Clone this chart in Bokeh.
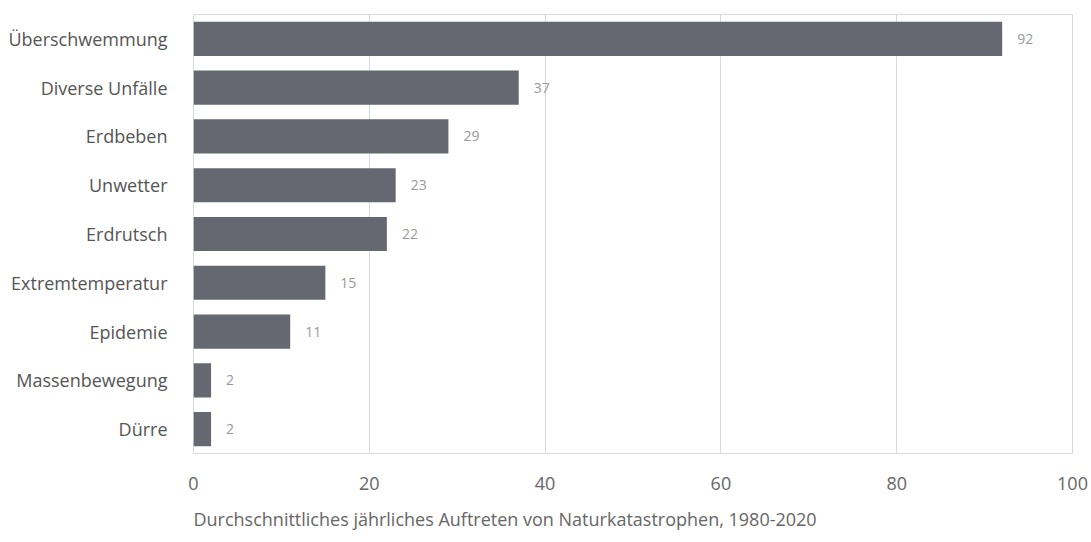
from bokeh.plotting import figure
from bokeh.models import ColumnDataSource, Range1d, FactorRange, FixedTicker, Title
from bokeh.core.properties import value
from bokeh.embed import file_html
from bokeh.resources import INLINE

categories = ["Überschwemmung", "Diverse Unfälle", "Erdbeben", "Unwetter", "Erdrutsch",
              "Extremtemperatur", "Epidemie", "Massenbewegung", "Dürre"]
values = [92, 37, 29, 23, 22, 15, 11, 2, 2]
x_ticks = [0, 20, 40, 60, 80, 100]
title_text = "Durchschnittliches jährliches Auftreten von Naturkatastrophen, 1980-2020"

FONT = "Open Sans"

src = ColumnDataSource(dict(cat=categories, val=values, lab=[str(v) for v in values]))

p = figure(width=1091, height=542, output_backend="svg", toolbar_location=None,
           y_range=FactorRange(*reversed(categories), range_padding=0),
           x_range=Range1d(0, 100),
           min_border_left=193, min_border_right=19, min_border_top=14, min_border_bottom=0)

p.hbar(y="cat", right="val", left=0, height=0.7, source=src, color="#656870", line_color=None)
p.text(x="val", y="cat", text="lab", source=src, x_offset=15, text_baseline="middle",
       text_align="left", text_font=value(FONT), text_font_size="14px", text_color="#999999")

p.outline_line_color = "#d9d9d9"
p.outline_line_width = 1
p.xgrid.grid_line_color = "#d9d9d9"
p.ygrid.grid_line_color = None
p.xaxis.ticker = FixedTicker(ticks=x_ticks)

for ax in (p.xaxis[0], p.yaxis[0]):
    ax.axis_line_color = None
    ax.major_tick_line_color = None
    ax.minor_tick_line_color = None
    ax.major_label_text_font = FONT

p.xaxis.major_label_text_font_size = "18px"
p.xaxis.major_label_text_color = "#666666"
p.xaxis.major_label_standoff = 17
p.yaxis.major_label_text_font_size = "18px"
p.yaxis.major_label_text_color = "#555555"
p.yaxis.major_label_standoff = 20

t = Title(text=title_text, align="left", text_font=FONT, text_font_size="18px",
          text_font_style="normal", text_color="#666666", standoff=24)
p.add_layout(t, "below")

open("out.html", "w").write(file_html(p, INLINE))
